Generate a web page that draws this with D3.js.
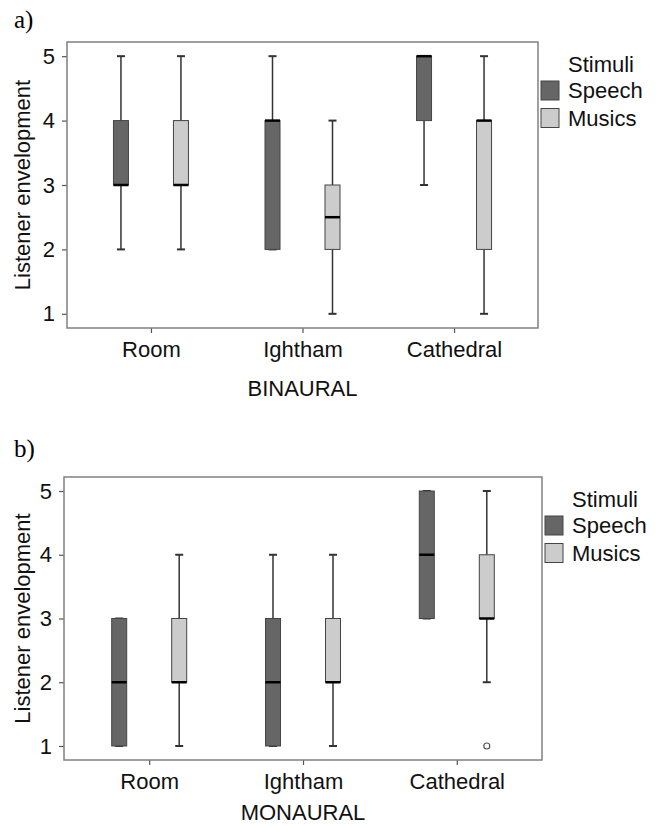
<!DOCTYPE html>
<html>
<head>
<meta charset="utf-8">
<script src="https://cdn.jsdelivr.net/npm/d3@7"></script>
<style>
  body { margin: 0; background: #fff; }
  svg { display: block; font-family: "Liberation Sans", Arial, sans-serif; }
</style>
</head>
<body>
<svg id="chart" width="656" height="827"></svg>
<script>
const categories = ['Room', 'Ightham', 'Cathedral'];
const stimuli = ['Speech', 'Musics'];
const stimulusColors = ['#666666', '#cccccc'];
const yTickValues = [1, 2, 3, 4, 5];

// box stats per category: [min, q1, median, q3, max]
const binauralSpeech = [[2, 3, 3, 4, 5], [2, 2, 4, 4, 5], [3, 4, 5, 5, 5]];
const binauralMusics = [[2, 3, 3, 4, 5], [1, 2, 2.5, 3, 4], [1, 2, 4, 4, 5]];
const monauralSpeech = [[1, 1, 2, 3, 3], [1, 1, 2, 3, 4], [3, 3, 4, 5, 5]];
const monauralMusics = [[1, 2, 2, 3, 4], [1, 2, 2, 3, 4], [2, 3, 3, 4, 5]];
const monauralOutliers = [{category: 'Cathedral', stimulus: 'Musics', value: 1}];

const panels = [
  {tag: 'a)', title: 'BINAURAL', series: [binauralSpeech, binauralMusics], outliers: [],
   frame: {left: 67, top: 42, right: 538, bottom: 328}, tagY: 28, titleY: 396},
  {tag: 'b)', title: 'MONAURAL', series: [monauralSpeech, monauralMusics], outliers: monauralOutliers,
   frame: {left: 64, top: 477, right: 542, bottom: 760}, tagY: 457, titleY: 820}
];

const svg = d3.select('#chart');
const boxWidth = 15;
const capWidth = 8;
const fontSize = 22;

function drawPanel(p) {
  const f = p.frame;
  const g = svg.append('g');

  const x = d3.scalePoint().domain(categories).range([f.left, f.right]).padding(0.554);
  const offset = d3.scalePoint().domain(stimuli).range([-30, 30]);
  const y = d3.scaleLinear().domain([0.78, 5.22]).range([f.bottom, f.top]);

  // tag
  g.append('text')
    .attr('x', 14).attr('y', p.tagY)
    .attr('font-family', '"Liberation Serif", "DejaVu Serif", serif')
    .attr('font-size', 25)
    .text(p.tag);

  // axes
  const yAxis = g.append('g')
    .attr('transform', `translate(${f.left},0)`)
    .call(d3.axisLeft(y).tickValues(yTickValues).tickSize(5).tickPadding(7).tickFormat(d3.format('d')));
  const xAxis = g.append('g')
    .attr('transform', `translate(0,${f.bottom})`)
    .call(d3.axisBottom(x).tickSize(5).tickPadding(8));
  [yAxis, xAxis].forEach(a => {
    a.select('.domain').remove();
    a.selectAll('line').attr('stroke', '#555').attr('stroke-width', 1.2);
    a.selectAll('text').attr('font-size', fontSize).attr('fill', '#111')
      .attr('font-family', '"Liberation Sans", Arial, sans-serif');
  });

  // frame
  g.append('rect')
    .attr('x', f.left).attr('y', f.top)
    .attr('width', f.right - f.left).attr('height', f.bottom - f.top)
    .attr('fill', 'none').attr('stroke', '#808080').attr('stroke-width', 1.5);

  // axis titles
  g.append('text')
    .attr('transform', `translate(30,${(f.top + f.bottom) / 2}) rotate(-90)`)
    .attr('text-anchor', 'middle')
    .attr('font-size', fontSize).attr('fill', '#111')
    .text('Listener envelopment');
  g.append('text')
    .attr('x', x('Ightham')).attr('y', p.titleY)
    .attr('text-anchor', 'middle')
    .attr('font-size', fontSize).attr('fill', '#111')
    .text(p.title);

  // boxes
  stimuli.forEach((s, si) => {
    const boxes = g.append('g').selectAll('g')
      .data(p.series[si].map((d, i) => ({category: categories[i], stats: d})))
      .join('g')
      .attr('transform', d => `translate(${x(d.category) + offset(s)},0)`);

    // whiskers
    boxes.append('line')
      .attr('y1', d => y(d.stats[0])).attr('y2', d => y(d.stats[1]))
      .attr('stroke', '#333').attr('stroke-width', 1.5);
    boxes.append('line')
      .attr('y1', d => y(d.stats[3])).attr('y2', d => y(d.stats[4]))
      .attr('stroke', '#333').attr('stroke-width', 1.5);
    [0, 4].forEach(k => {
      boxes.append('line')
        .attr('x1', -capWidth / 2).attr('x2', capWidth / 2)
        .attr('y1', d => y(d.stats[k])).attr('y2', d => y(d.stats[k]))
        .attr('stroke', '#333').attr('stroke-width', 2);
    });

    boxes.append('rect')
      .attr('x', -boxWidth / 2).attr('width', boxWidth)
      .attr('y', d => y(d.stats[3]))
      .attr('height', d => y(d.stats[1]) - y(d.stats[3]))
      .attr('fill', stimulusColors[si])
      .attr('stroke', '#444').attr('stroke-width', 1);

    boxes.append('line')
      .attr('x1', -boxWidth / 2).attr('x2', boxWidth / 2)
      .attr('y1', d => y(d.stats[2])).attr('y2', d => y(d.stats[2]))
      .attr('stroke', '#000').attr('stroke-width', 2.5);
  });

  // outliers
  g.append('g').selectAll('circle')
    .data(p.outliers)
    .join('circle')
    .attr('cx', d => x(d.category) + offset(d.stimulus))
    .attr('cy', d => y(d.value))
    .attr('r', 3)
    .attr('fill', 'none').attr('stroke', '#555').attr('stroke-width', 1.2);

  // legend
  const legend = g.append('g').attr('transform', `translate(${f.right},${f.top})`);
  legend.append('text')
    .attr('x', 30).attr('y', 30)
    .attr('font-size', fontSize).attr('fill', '#111')
    .text('Stimuli');
  const items = legend.selectAll('g.item')
    .data(stimuli)
    .join('g')
    .attr('class', 'item')
    .attr('transform', (d, i) => `translate(3,${39 + i * 27.5})`);
  items.append('rect')
    .attr('width', 18).attr('height', 19)
    .attr('fill', (d, i) => stimulusColors[i])
    .attr('stroke', '#444').attr('stroke-width', 1);
  items.append('text')
    .attr('x', 27).attr('y', 17)
    .attr('font-size', fontSize).attr('fill', '#111')
    .text(d => d);
}

panels.forEach(drawPanel);
</script>
</body>
</html>
